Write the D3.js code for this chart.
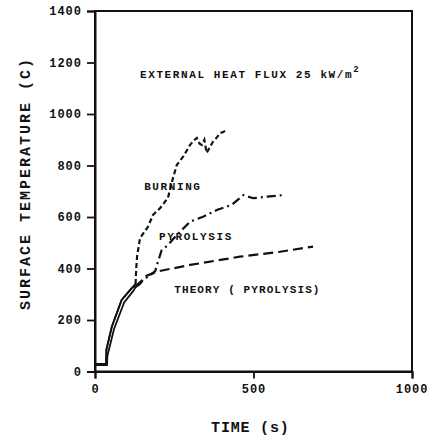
<!DOCTYPE html>
<html>
<head>
<meta charset="utf-8">
<script src="https://cdn.jsdelivr.net/npm/d3@7"></script>
<style>
  body { margin: 0; background: #fff; }
  text { font-family: "Liberation Mono", "DejaVu Sans Mono", monospace; font-weight: bold; fill: #111; }
</style>
</head>
<body>
<div id="chart"></div>
<script>
// data: [time (s), temperature (C)]
var burning = [[0,30],[35,30],[36,85],[53,174],[84,278],[116,324],[128,340],
  [130,400],[133,450],[142,518],[167,562],[183,608],[205,634],[230,674],[246,751],
  [258,802],[278,834],[300,880],[310,895],[321,907],[330,885],[337,880],[345,900],
  [352,849],[362,870],[372,892],[385,910],[394,926],[405,930],[413,938]];
var pyrolysis = [[0,30],[35,30],[36,85],[53,174],[84,278],[116,324],[128,332],
  [150,355],[175,375],[190,390],[197,420],[210,470],[230,491],[258,530],[300,582],
  [341,601],[384,627],[431,647],[468,685],[499,673],[542,679],[594,685]];
var theory = [[0,25],[38,25],[39,60],[60,165],[92,268],[122,315],[128,328],
  [142,340],[160,370],[195,388],[300,414],[331,420],[457,446],[584,465],[688,485]];
var splitTime = 128;   // before this the curves are drawn solid
var yTicks = [0,200,400,600,800,1000,1200,1400];
var xTicks = [0,500,1000];

// dimensions
var margin = {top: 11, right: 15, bottom: 67.5, left: 95},
    width = 427 - margin.left - margin.right,
    height = 439 - margin.top - margin.bottom;

var svg = d3.select("#chart")
  .append("svg")
    .attr("width", 427)
    .attr("height", 439)
  .append("g")
    .attr("transform", "translate(" + margin.left + "," + margin.top + ")");

var x = d3.scaleLinear().domain([0, 1000]).range([0, width]);
var y = d3.scaleLinear().domain([0, 1400]).range([height, 0]);

// frame
svg.append("rect")
  .attr("width", width).attr("height", height)
  .attr("fill", "none").attr("stroke", "#111").attr("stroke-width", 2);

// axes
var yAxis = svg.append("g")
  .call(d3.axisLeft(y).tickValues(yTicks).tickSize(8).tickPadding(5).tickFormat(d3.format("d")));
var xAxis = svg.append("g")
  .attr("transform", "translate(0," + height + ")")
  .call(d3.axisBottom(x).tickValues(xTicks).tickSize(7).tickPadding(6).tickFormat(d3.format("d")));

[xAxis, yAxis].forEach(function(a) {
  a.select(".domain").attr("stroke", "#111").attr("stroke-width", 2);
  a.selectAll(".tick line").attr("stroke", "#111").attr("stroke-width", 1.8);
  a.selectAll(".tick text").style("font-size", "12px").style("letter-spacing", "1px").attr("fill", "#111");
});

// the last x label sits against the right edge of the page
xAxis.selectAll(".tick text")
  .filter(function(d) { return d === 1000; })
  .attr("text-anchor", "end").attr("dx", 16);

// axis titles
svg.append("text")
  .attr("x", x(490)).attr("y", height + 60)
  .attr("text-anchor", "middle")
  .style("font-size", "15px").style("letter-spacing", "0.8px")
  .text("TIME (s)");

svg.append("text")
  .attr("transform", "translate(" + (-65) + "," + y(730) + ") rotate(-90)")
  .attr("text-anchor", "middle")
  .style("font-size", "15px").style("letter-spacing", "2px")
  .text("SURFACE TEMPERATURE (C)");

// curves
var line = d3.line()
  .x(function(d) { return x(d[0]); })
  .y(function(d) { return y(d[1]); });

function drawCurve(data, dash) {
  var early = data.filter(function(d) { return d[0] <= splitTime; });
  var late = data.filter(function(d) { return d[0] >= splitTime; });
  svg.append("path").datum(early)
    .attr("d", line).attr("fill", "none")
    .attr("stroke", "#111").attr("stroke-width", 1.8);
  svg.append("path").datum(late)
    .attr("d", line).attr("fill", "none")
    .attr("stroke", "#111").attr("stroke-width", 2.2)
    .attr("stroke-dasharray", dash);
}

drawCurve(theory, "10,5");
drawCurve(pyrolysis, "9,4,2,4");
drawCurve(burning, "5,3");

// labels
function label(t, v, txt, sp) {
  return svg.append("text")
    .attr("x", x(t)).attr("y", y(v))
    .style("font-size", "11px").style("letter-spacing", (sp || 1.6) + "px")
    .text(txt);
}

var head = label(142, 1140, "EXTERNAL HEAT FLUX 25 kW/m");
head.append("tspan").attr("dy", -6).style("font-size", "9px").text("2");
label(155, 705, "BURNING");
label(202, 510, "PYROLYSIS");
label(250, 305, "THEORY ( PYROLYSIS)", 1.1);
</script>
</body>
</html>
